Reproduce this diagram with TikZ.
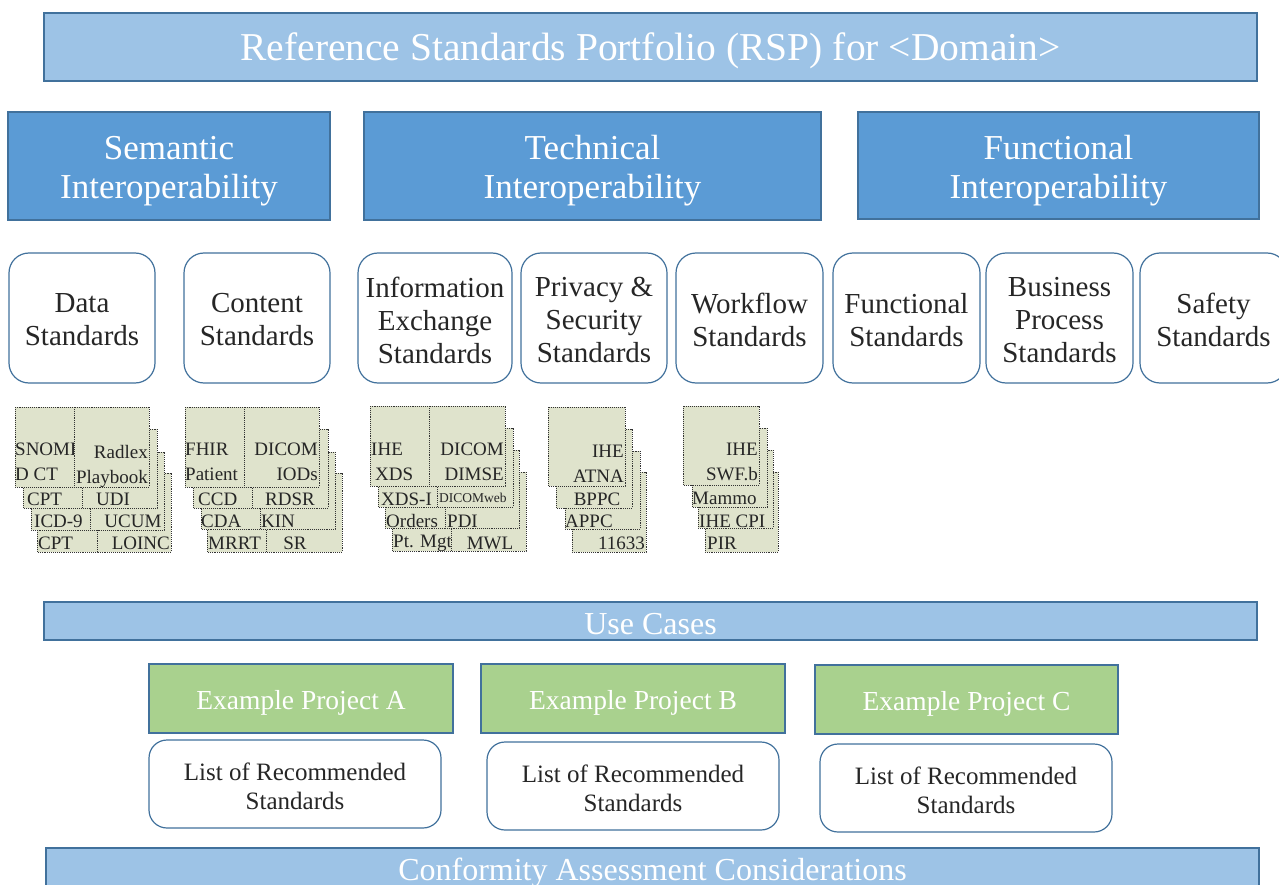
\documentclass[tikz,border=0pt]{standalone}
\usepackage{fontspec}
\setmainfont{Liberation Serif}
\definecolor{lblue}{HTML}{9DC3E6}
\definecolor{mblue}{HTML}{5B9BD5}
\definecolor{bord}{HTML}{41719C}
\definecolor{pgreen}{HTML}{A9D18E}
\definecolor{cardfill}{HTML}{DFE3CC}
\definecolor{ink}{HTML}{262626}
\newcommand\fs[2]{\fontsize{#1}{#2}\selectfont}
\begin{document}
\begin{tikzpicture}[x=1pt,y=-1pt,
  bar/.style={draw=bord, line width=1.2pt, fill=lblue, inner sep=0pt},
  bartext/.style={text=white, inner sep=0pt, font=\fs{32}{36}},
  head/.style={draw=bord, line width=1.2pt, fill=mblue, inner sep=0pt},
  headtext/.style={text=white, inner sep=0pt, align=center, font=\fs{35}{39}},
  rbox/.style={draw=bord, line width=1.2pt, fill=white, rounded corners=20pt, inner sep=0pt, minimum height=130pt},
  rtext/.style={text=ink, inner sep=0pt, align=center, font=\fs{29}{33}},
  proj/.style={draw=bord, line width=1.2pt, fill=pgreen, inner sep=0pt, minimum width=304pt, minimum height=69pt},
  projtext/.style={text=white, inner sep=0pt, font=\fs{27.5}{30}},
  lst/.style={draw=bord, line width=1.2pt, fill=white, rounded corners=18pt, inner sep=0pt, minimum width=292pt, minimum height=88pt},
  lsttext/.style={text=ink, inner sep=0pt, align=center, font=\fs{25}{29}},
  card/.style={draw=black!80, densely dotted, line width=0.9pt, fill=cardfill},
  ct/.style={text=ink, inner sep=0pt, font=\fs{19}{25}},
  cr/.style={ct, align=right},
  cl/.style={ct, align=left}]
\useasboundingbox (0,0) rectangle (1279,885);

% title
\node[bar, minimum width=1213pt, minimum height=68pt] (title) at (650.5,47) {};
\node[bartext, font=\fs{39.5}{44}] (titlet) at (650.5,51) {Reference Standards Portfolio (RSP) for <Domain>};

% interoperability headers
\node[head, minimum width=322pt, minimum height=108pt] (sem) at (169,166) {};
\node[headtext] (semt) at (169,171) {Semantic\\Interoperability};
\node[head, minimum width=457pt, minimum height=108pt] (tec) at (592.5,166) {};
\node[headtext] (tect) at (592.5,171) {Technical\\Interoperability};
\node[head, minimum width=401pt, minimum height=107pt] (fun) at (1058.5,165.5) {};
\node[headtext] (funt) at (1058.5,170.5) {Functional\\Interoperability};

% standards categories
\node[rbox, minimum width=146pt] (data) at (82,318) {};
\node[rtext] (datat) at (82,320) {Data\\Standards};
\node[rbox, minimum width=146pt] (cont) at (257,318) {};
\node[rtext] (contt) at (257,320) {Content\\Standards};
\node[rbox, minimum width=154pt] (info) at (435,318) {};
\node[rtext] (infot) at (435,320) {Information\\Exchange\\Standards};
\node[rbox, minimum width=146pt] (priv) at (594,318) {};
\node[rtext] (privt) at (594,320) {Privacy \&\\Security\\Standards};
\node[rbox, minimum width=147pt] (work) at (749.5,318) {};
\node[rtext] (workt) at (749.5,320) {Workflow\\Standards};
\node[rbox, minimum width=147pt] (fstd) at (906.5,318) {};
\node[rtext] (fstdt) at (906.5,320) {Functional\\Standards};
\node[rbox, minimum width=147pt] (busi) at (1059.5,318) {};
\node[rtext] (busit) at (1059.5,320) {Business\\Process\\Standards};
\node[rbox, minimum width=147pt] (safe) at (1213.5,318) {};
\node[rtext] (safet) at (1213.5,320) {Safety\\Standards};

% ---- group 1: data standards
\path[card] (37,473) rectangle (97,552);
\node[ct, anchor=west] (d4a) at (38,543) {CPT};
\path[card] (97,473) rectangle (171,552);
\node[ct, anchor=east] (d4b) at (170,543) {LOINC};
\path[card] (31,452) rectangle (90,530);
\node[ct, anchor=west] (d3a) at (34,521) {ICD-9};
\path[card] (90,452) rectangle (164,530);
\node[ct] (d3b) at (133,521) {UCUM};
\path[card] (23,429) rectangle (82,508);
\node[ct, anchor=west] (d2a) at (27,499) {CPT};
\path[card] (82,429) rectangle (157,508);
\node[ct] (d2b) at (113,499) {UDI};
\path[card] (15,407) rectangle (74,487);
\node[cl, anchor=north west] (d1a) at (15,443) {SNOME\\D CT};
\path[card] (74,407) rectangle (149,487);
\node[cr, anchor=north east] (d1b) at (148,445) {Radlex\\Playbook};

% ---- group 2: content standards
\path[card] (207,473) rectangle (266,552);
\node[ct, anchor=west] (c4a) at (208,543) {MRRT};
\path[card] (266,473) rectangle (342,552);
\node[ct] (c4b) at (295,543) {SR};
\path[card] (201,452) rectangle (260,529);
\node[ct, anchor=west] (c3a) at (201,521) {CDA};
\path[card] (260,452) rectangle (335,529);
\node[ct, anchor=west] (c3b) at (261,521) {KIN};
\path[card] (193,429) rectangle (252,508);
\node[ct, anchor=west] (c2a) at (198,499) {CCD};
\path[card] (252,429) rectangle (328,508);
\node[ct] (c2b) at (290,499) {RDSR};
\path[card] (185,407) rectangle (244,487);
\node[cl, anchor=north west] (c1a) at (185,443) {FHIR\\Patient};
\path[card] (244,407) rectangle (319,487);
\node[cr, anchor=north east] (c1b) at (318,443) {DICOM\\IODs};

% ---- group 3: information exchange
\path[card] (392,472) rectangle (451,551);
\node[ct, anchor=west] (i4a) at (393,543) {Pt. Mgt};
\path[card] (451,472) rectangle (526,551);
\node[ct] (i4b) at (490,543) {MWL};
\path[card] (385,450) rectangle (445,528);
\node[ct, anchor=west] (i3a) at (386,521) {Orders};
\path[card] (445,450) rectangle (519,528);
\node[ct, anchor=west] (i3b) at (447,521) {PDI};
\path[card] (378,428) rectangle (437,507);
\node[ct, anchor=west] (i2a) at (381,499) {XDS-I};
\path[card] (437,428) rectangle (513,507);
\node[ct, anchor=west, font=\fs{13.5}{15}] (i2b) at (439,498) {DICOMweb};
\path[card] (370,406) rectangle (429,486);
\node[cl, anchor=north west] (i1a) at (371,443) {IHE\\\hspace*{4pt}XDS};
\path[card] (429,406) rectangle (505,486);
\node[cr, anchor=north east] (i1b) at (504,443) {DICOM\\DIMSE};

% ---- group 4: privacy & security
\path[card] (572,472) rectangle (646,552);
\node[ct, anchor=east] (p4) at (645,543) {11633};
\path[card] (565,451) rectangle (640,529);
\node[ct, anchor=west] (p3) at (565,521) {APPC};
\path[card] (556,429) rectangle (632,508);
\node[ct] (p2) at (597,499) {BPPC};
\path[card] (548,407) rectangle (625,486);
\node[cr, anchor=north east] (p1) at (624,445) {IHE\\ATNA};

% ---- group 5: workflow
\path[card] (705,472) rectangle (778,552);
\node[ct, anchor=west] (w4) at (707,543) {PIR};
\path[card] (698,450) rectangle (773,528);
\node[ct, anchor=west] (w3) at (699,521) {IHE CPI};
\path[card] (692,428) rectangle (767,507);
\node[ct, anchor=west] (w2) at (692,498) {Mammo};
\path[card] (683,406) rectangle (759,485);
\node[cr, anchor=north east] (w1) at (758,443) {IHE\\SWF.b};

% use cases
\node[bar, minimum width=1213pt, minimum height=38pt] (uc) at (650.5,621) {};
\node[bartext] (uct) at (650.5,624) {Use Cases};

% projects
\node[proj] (pa) at (301,698.5) {};
\node[projtext] (pat) at (301,702.5) {Example Project A};
\node[proj] (pb) at (633,698.5) {};
\node[projtext] (pbt) at (633,702.5) {Example Project B};
\node[proj, minimum width=303pt] (pc) at (966.5,699.5) {};
\node[projtext] (pct) at (966.5,703.5) {Example Project C};
\node[lst] (la) at (295,784) {};
\node[lsttext] (lat) at (295,786) {List of Recommended\\Standards};
\node[lst] (lb) at (633,786) {};
\node[lsttext] (lbt) at (633,788) {List of Recommended\\Standards};
\node[lst] (lc) at (966,788) {};
\node[lsttext] (lct) at (966,790) {List of Recommended\\Standards};

% conformity
\node[bar, minimum width=1213pt, minimum height=46pt] (conf) at (652.5,871) {};
\node[bartext] (conft) at (652.5,873) {Conformity Assessment Considerations};
\end{tikzpicture}
\end{document}
